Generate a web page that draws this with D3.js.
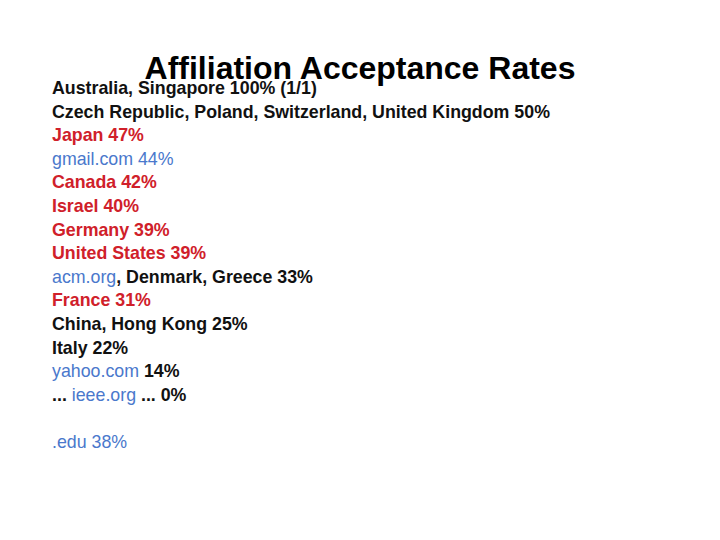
<!DOCTYPE html>
<html><head><meta charset="utf-8">
<script src="https://cdn.jsdelivr.net/npm/d3@7"></script>
<style>body{margin:0;background:#fff}</style></head>
<body><div id="chart"></div>
<script>
// rows: list of [text, kind] segments; kind: b=black bold, r=red bold, d=blue domain
const rows = [
  [["Australia, Singapore 100% (1/1)", "b"]],
  [["Czech Republic, Poland, Switzerland, United Kingdom 50%", "b"]],
  [["Japan 47%", "r"]],
  [["gmail.com 44%", "d"]],
  [["Canada 42%", "r"]],
  [["Israel 40%", "r"]],
  [["Germany 39%", "r"]],
  [["United States 39%", "r"]],
  [["acm.org", "d"], [", Denmark, Greece 33%", "b"]],
  [["France 31%", "r"]],
  [["China, Hong Kong 25%", "b"]],
  [["Italy 22%", "b"]],
  [["yahoo.com", "d"], [" 14%", "b"]],
  [["... ", "b"], ["ieee.org", "d"], [" ... 0%", "b"]],
  [["", "b"]],
  [[".edu 38%", "d"]]
];
const colors = {b: "#111", r: "#d0202a", d: "#4a78cc"};
const weights = {b: "bold", r: "bold", d: "normal"};

const svg = d3.select("#chart").append("svg").attr("width", 720).attr("height", 540);
svg.append("text").attr("x", 360).attr("y", 79).attr("text-anchor", "middle")
  .attr("font-family", "Liberation Sans, Arial, sans-serif").attr("font-weight", "bold")
  .attr("font-size", 32).attr("fill", "#000").text("Affiliation Acceptance Rates");

const y = d3.scalePoint().domain(d3.range(rows.length)).range([94, 448]);

const t = svg.selectAll("text.row").data(rows).enter().append("text")
  .attr("class", "row").attr("x", 52).attr("y", (d, i) => y(i))
  .attr("font-family", "Liberation Sans, Arial, sans-serif").attr("font-size", 17.8)
  .style("white-space", "pre");
t.selectAll("tspan").data(d => d).enter().append("tspan")
  .attr("fill", d => colors[d[1]]).attr("font-weight", d => weights[d[1]])
  .attr("xml:space", "preserve").text(d => d[0]);
</script></body></html>
